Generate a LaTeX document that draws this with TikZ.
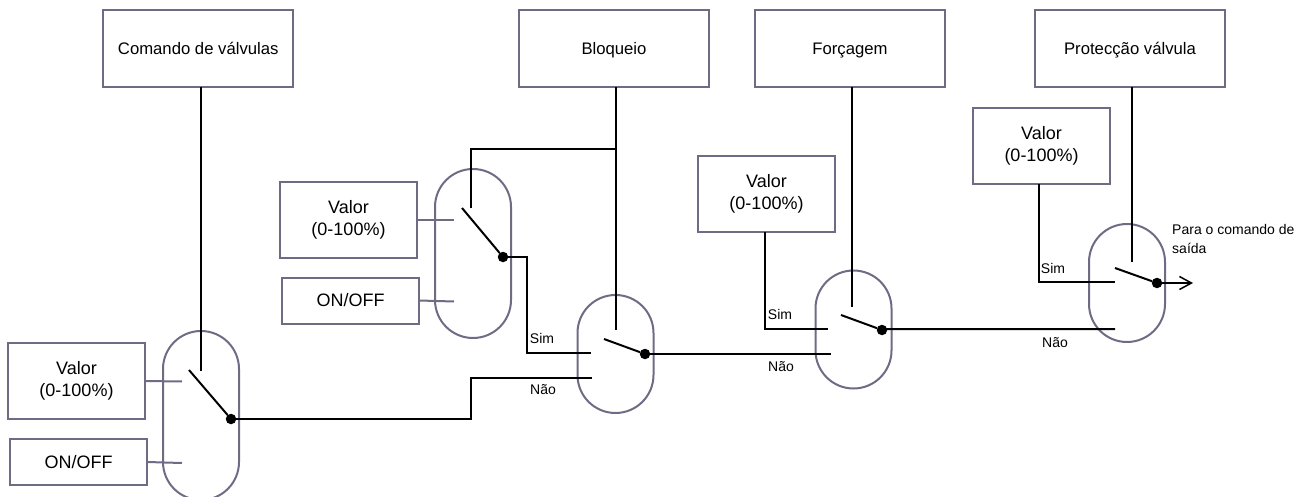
\documentclass[tikz,border=0pt]{standalone}
\usepackage{fontspec}
\setmainfont{Liberation Sans}
\usetikzlibrary{arrows.meta}
\definecolor{frameink}{HTML}{6F6B84}
\definecolor{wireink}{HTML}{000000}
\tikzset{
  topbox/.style={draw=frameink,line width=2pt,inner sep=0pt,outer sep=0pt,minimum width=190pt,minimum height=77pt,text height=12.2pt,text depth=0pt,font=\fontsize{16.7}{20}\selectfont},
  valuebox/.style={draw=frameink,line width=2pt,inner sep=0pt,outer sep=0pt,minimum width=137pt,minimum height=76pt,align=center,font=\fontsize{18}{22}\selectfont},
  onoffbox/.style={valuebox,minimum height=46pt},
  capsule/.style={draw=frameink,line width=2pt,inner sep=0pt,outer sep=0pt,minimum width=76pt,minimum height=#1,rounded corners=38pt},
  wire/.style={draw=wireink,line width=2pt},
  stub/.style={draw=frameink,line width=2pt},
  swdot/.style={circle,fill=wireink,inner sep=0pt,outer sep=0pt,minimum size=10.5pt},
  tag/.style={font=\fontsize{14}{19}\selectfont}
}
\begin{document}
\begin{tikzpicture}[x=1pt,y=-1pt]
  \useasboundingbox (0,0) rectangle (1308,497);
  % top boxes
  \node[topbox] (comando) at (198.25,48.5) {Comando de válvulas};
  \node[topbox] (bloqueio) at (614,48.5) {Bloqueio};
  \node[topbox] (forcagem) at (850,48.5) {Forçagem};
  \node[topbox] (proteccao) at (1130,48.5) {Protecção válvula};
  % value boxes
  \node[valuebox] (valorA) at (76.5,381) {Valor\\(0-100\%)};
  \node[onoffbox] (onoffA) at (78.5,462) {ON/OFF};
  \node[valuebox] (valorB) at (348.5,220) {Valor\\(0-100\%)};
  \node[onoffbox] (onoffB) at (350.5,300.5) {ON/OFF};
  \node[valuebox] (valorD) at (766.5,194) {Valor\\(0-100\%)};
  \node[valuebox] (valorE) at (1041.5,146) {Valor\\(0-100\%)};
  % switch bodies
  \node[capsule=169pt] (capA) at (201,415.5) {};
  \node[capsule=169pt] (capB) at (473,253.5) {};
  \node[capsule=118pt] (capC) at (615.5,354) {};
  \node[capsule=118pt] (capD) at (853.5,329.5) {};
  \node[capsule=118pt] (capE) at (1127,283) {};
  % switch dots
  \node[swdot] (dotA) at (231,419) {};
  \node[swdot] (dotB) at (503,257) {};
  \node[swdot] (dotC) at (645,354) {};
  \node[swdot] (dotD) at (882,330) {};
  \node[swdot] (dotE) at (1157,283) {};
  % free ends
  \coordinate (ctrlA) at (200.5,371);
  \coordinate (ctrlB) at (471,208);
  \coordinate (ctrlC) at (615.7,330);
  \coordinate (ctrlD) at (852,307);
  \coordinate (ctrlE) at (1132,262);
  \coordinate (bladeA) at (189,370);
  \coordinate (bladeB) at (462,208);
  \coordinate (bladeC) at (604,339);
  \coordinate (bladeD) at (841,315);
  \coordinate (bladeE) at (1115,268);
  \coordinate (teeB) at (615.7,149);
  \coordinate (simC) at (591,353);
  \coordinate (naoC) at (592,378);
  \coordinate (simD) at (828,329);
  \coordinate (naoD) at (831,354);
  \coordinate (simE) at (1115,282);
  \coordinate (naoE) at (1115,329);
  \coordinate (saida) at (1193,283);
  % grey inputs
  \draw[stub] (valorA.east) -- (182,381.5);
  \draw[stub] (onoffA.east) -- (182,463);
  \draw[stub] (valorB.east) -- (454,220);
  \draw[stub] (onoffB.east) -- (454,301.5);
  % control lines
  \draw[wire] (ctrlA |- comando.south) -- (ctrlA);
  \draw[wire] (ctrlC |- bloqueio.south) -- (ctrlC);
  \draw[wire] (ctrlB) |- (teeB);
  \draw[wire] (ctrlD |- forcagem.south) -- (ctrlD);
  \draw[wire] (ctrlE |- proteccao.south) -- (ctrlE);
  % blades
  \draw[wire] (bladeA) -- (dotA);
  \draw[wire] (bladeB) -- (dotB);
  \draw[wire] (bladeC) -- (dotC);
  \draw[wire] (bladeD) -- (dotD);
  \draw[wire] (bladeE) -- (dotE);
  % signal path
  \draw[wire] (dotA.center) -- (471,419) |- (naoC);
  \draw[wire] (dotB.center) -- (527,257) |- (simC);
  \draw[wire] (dotC.center) -- (naoD);
  \draw[wire] (dotD.center) -- (886,329) -- (naoE);
  \draw[wire] (valorD.south -| 765,0) |- (simD);
  \draw[wire] (valorE.south -| 1039,0) |- (simE);
  \draw[wire,-{Straight Barb[length=12pt,width=13pt,line width=1.5pt]}] (dotE.center) -- (saida);
  % labels
  \node[tag] (simCl) at (542,338) {Sim};
  \node[tag] (naoCl) at (543,390) {Não};
  \node[tag] (simDl) at (780,314) {Sim};
  \node[tag] (naoDl) at (781,367) {Não};
  \node[tag] (simEl) at (1053,268) {Sim};
  \node[tag] (naoEl) at (1055,343) {Não};
  \node[tag,anchor=north west,align=left,inner sep=0pt] (saidal) at (1172,224) {Para o comando de\\saída};
\end{tikzpicture}
\end{document}
